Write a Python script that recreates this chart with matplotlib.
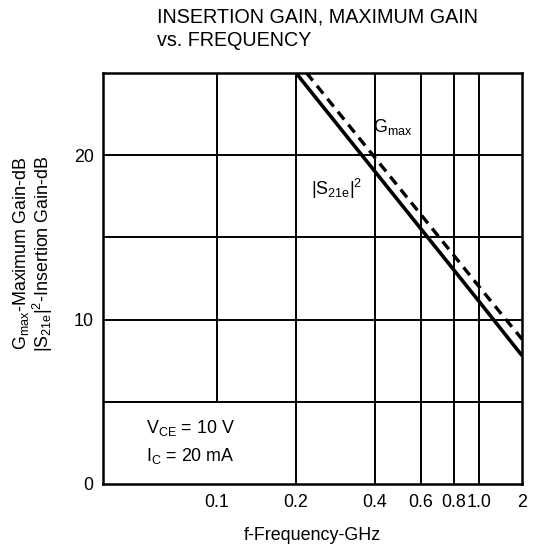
import numpy as np
import matplotlib
matplotlib.use("Agg")
import matplotlib.pyplot as plt
from matplotlib import font_manager

names = {f.name for f in font_manager.fontManager.ttflist}
NARROW = 'Liberation Sans Narrow' in names
FAM = ['Liberation Sans Narrow', 'Liberation Sans'] if NARROW else ['Liberation Sans', 'DejaVu Sans']
K = 1.0 if NARROW else 0.86

plt.rcParams['font.family'] = FAM
plt.rcParams['mathtext.fontset'] = 'custom'
plt.rcParams['mathtext.rm'] = FAM[0]
plt.rcParams['mathtext.it'] = FAM[0]

# Data
freq = [0.2, 1.0, 2.0]                 # GHz
s21_db = [25.0, 11.1, 7.8]             # |S21e|^2 insertion gain, dB
gmax_db = [25.8, 12.0, 8.8]            # Gmax, dB
xticks = [0.1, 0.2, 0.4, 0.6, 0.8, 1.0, 2.0]
xticklabels = ["0.1", "0.2", "0.4", "0.6", "0.8", "1.0", "2"]
vgrid = [0.1, 0.2, 0.4, 0.6, 0.8, 1.0]
vgrid_bottom = [5, 0, 0, 0, 0, 0]
hgrid = [5, 10, 15, 20]
yticks = [0, 10, 20]

# Scale: log up to 1 GHz, compressed beyond (as in the printed chart)
C = 0.545
def fwd(f):
    f = np.asarray(f, dtype=float)
    f = np.where(f > 0, f, 1e-9)
    l = np.log10(f)
    return np.where(l <= 0, l, C * l)
def inv(x):
    x = np.asarray(x, dtype=float)
    return np.where(x <= 0, 10 ** x, 10 ** (x / C))

fig = plt.figure(figsize=(5.36, 5.53), dpi=100)
ax = fig.add_axes([0.193, 0.125, 0.781, 0.743])
ax.set_xscale('function', functions=(fwd, inv))
ax.set_xlim(0.0368, 2.0)
ax.set_ylim(0, 25)

for f, yb in zip(vgrid, vgrid_bottom):
    ax.vlines(f, yb, 25, colors='black', linewidth=1.4, zorder=1)
ax.hlines(hgrid, 0.0368, 2.0, colors='black', linewidth=1.4, zorder=1)

ax.plot(freq, s21_db, color='black', linewidth=2.6, solid_capstyle='butt', zorder=3)
ax.plot(freq, gmax_db, color='black', linewidth=2.4, linestyle=(0, (3, 2)), zorder=3)

fs = 15 * K
ax.set_xticks(xticks)
ax.set_xticklabels(xticklabels)
ax.set_yticks(yticks)
ax.tick_params(length=0, labelsize=fs, pad=7)
ax.xaxis.set_minor_locator(matplotlib.ticker.NullLocator())
for s in ax.spines.values():
    s.set_linewidth(1.8)

ax.set_xlabel("f-Frequency-GHz", fontsize=fs, labelpad=12)
ax.set_ylabel("G$_{\\rm max}$-Maximum Gain-dB\n|S$_{\\rm 21e}$|$^{2}$-Insertion Gain-dB",
              fontsize=fs, linespacing=1.0)
ax.yaxis.set_label_coords(-0.115, 0.56)

ax.text(0.395, 21.1, "G$_{\\rm max}$", fontsize=fs, ha='left', va='bottom')
ax.text(0.229, 17.2, "|S$_{\\rm 21e}$|$^{2}$", fontsize=fs, ha='left', va='bottom')
ax.text(0.0536, 2.8, "V$_{\\rm CE}$ = 10 V", fontsize=fs, ha='left', va='bottom')
ax.text(0.0536, 1.1, "I$_{\\rm C}$ = 20 mA", fontsize=fs, ha='left', va='bottom')

fig.text(0.292, 0.987, "INSERTION GAIN, MAXIMUM GAIN\nvs. FREQUENCY", fontsize=16.5 * K,
         ha='left', va='top', linespacing=1.3)

fig.savefig("out.png", dpi=100)
